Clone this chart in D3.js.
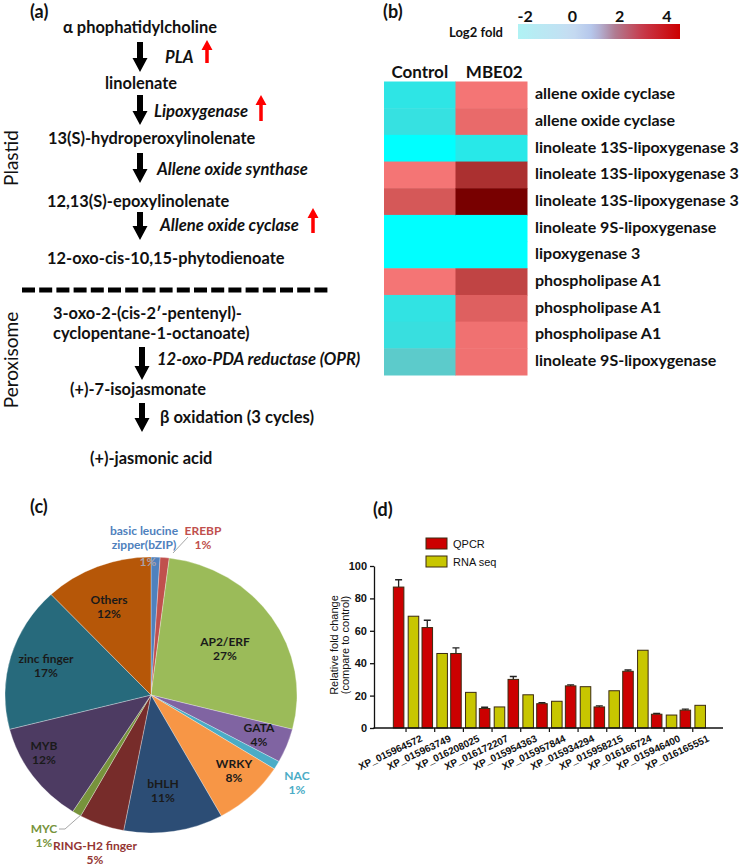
<!DOCTYPE html>
<html><head><meta charset="utf-8">
<script src="https://cdn.jsdelivr.net/npm/d3@7"></script>
<style>body{margin:0;background:#fff} svg{display:block}</style>
</head><body>
<script>
// ---------------- DATA ----------------
// (a) jasmonic acid pathway
const compounds = ["α phophatidylcholine","linolenate","13(S)-hydroperoxylinolenate","12,13(S)-epoxylinolenate",
  "12-oxo-cis-10,15-phytodienoate","3-oxo-2-(cis-2′-pentenyl)-\ncyclopentane-1-octanoate)","(+)-7-isojasmonate","(+)-jasmonic acid"];
const enzymes = ["PLA","Lipoxygenase","Allene oxide synthase","Allene oxide cyclase",null,"12-oxo-PDA reductase (OPR)","β oxidation (3 cycles)"];
const enzymeItalic = [true,true,true,true,false,true,false];
const upregulated = [true,true,false,true,false,false,false];
const compartments = ["Plastid","Peroxisome"];

// (b) heatmap
const conditions = ["Control","MBE02"];
const heatGenes = ["allene oxide cyclase","allene oxide cyclase","linoleate 13S-lipoxygenase 3","linoleate 13S-lipoxygenase 3",
  "linoleate 13S-lipoxygenase 3","linoleate 9S-lipoxygenase","lipoxygenase 3","phospholipase A1","phospholipase A1",
  "phospholipase A1","linoleate 9S-lipoxygenase"];
const controlLevel = [-0.62,-0.56,-1.0,1.0,1.25,-1.0,-1.0,1.0,-0.6,-0.54,-0.25];
const mbe02Level   = [1.0,1.09,-0.67,1.59,2.0,-1.0,-1.0,1.42,1.18,1.03,1.03];
const legendTicks = [-2,0,2,4];

// (c) transcription factor families
const tfFamilies = ["basic leucine\nzipper(bZIP)","EREBP","AP2/ERF","GATA","NAC","WRKY","bHLH","RING-H2 finger","MYC","MYB","zinc finger","Others"];
const tfPercent  = [1,1,27,4,1,8,11,5,1,12,17,12];
const tfColors   = ["#4f81bd","#c0504d","#9bbb59","#8064a2","#4bacc6","#f79646","#2c4d75","#772c2a","#77933c","#4d3b62","#276a7c","#b65708"];
const tfTextColors = ["#4f81bd","#c0504d","#1a1a1a","#1a1a1a","#4bacc6","#1a1a1a","#1a1a1a","#943634","#77933c","#1a1a1a","#1a1a1a","#1a1a1a"];

// (d) qPCR validation
const barGenes = ["XP_015964572","XP_015963749","XP_016208025","XP_016172207","XP_015954363","XP_015957844",
  "XP_015934294","XP_015958215","XP_016166724","XP_015946400","XP_016165551"];
const seriesNames = ["QPCR","RNA seq"];
const qpcr    = [87,62,46,12,30,15,26,13,35,8.5,11];
const qpcrErr = [4.5,4.5,3.5,0.8,1.8,0.6,0.6,0.6,0.8,0.5,0.6];
const rnaSeq  = [69,46,22,13,20.5,16.5,25.5,23,48,8,14];
const yTicks = [0,20,40,60,80,100];

// ---------------- LAYOUT ----------------
const CAL = "Lato, 'Open Sans', sans-serif";
const ARIAL = "'Liberation Sans', Arial, sans-serif";
const svg = d3.select("body").append("svg").attr("width",743).attr("height",865).style("background","#fff");

function txt(g,x,y,s,o={}){
  return g.append("text").attr("x",x).attr("y",y).text(s)
    .attr("font-family",o.ff||CAL).attr("font-size",o.fs||15).attr("font-weight",o.fw||"bold")
    .attr("font-style",o.it?"italic":"normal").attr("fill",o.fill||"#111")
    .attr("text-anchor",o.anchor||"start").attr("dominant-baseline",o.db||"central");
}
function arrowPath(x,y0,y1,sw,hw,hh){ // pointing from y0 to y1
  const d = y1>y0?1:-1;
  const yh = y1 - d*hh;
  return `M${x-sw/2},${y0}L${x+sw/2},${y0}L${x+sw/2},${yh}L${x+hw/2},${yh}L${x},${y1}L${x-hw/2},${yh}L${x-sw/2},${yh}Z`;
}

// ===== (a) =====
const gA = svg.append("g");
txt(gA,30,11,"(a)",{fs:18});
const compX = [63,105,48,47,47,53,70,90];
const compY = [26,82,137,200,257,312,388,457];
compounds.forEach((c,i)=>{
  c.split("\n").forEach((l,j)=> txt(gA,compX[i],compY[i]+j*20,l,{fs:16.4}));
});
const arrowX = [140,140,140,140,null,142,142];
const arrowSpan = [[42,72],[95,125],[153,183],[212,240],null,[347,380],[403,432]];
const enzX = [165,154,157,160,null,157,160];
const enzY = [57,111,169,225,null,359,417];
const redX = [207,261,null,313];
const redSpan = [[63,40],[121,95],null,[233,208]];
enzymes.forEach((e,i)=>{
  if(!e) return;
  gA.append("path").attr("d",arrowPath(arrowX[i],arrowSpan[i][0],arrowSpan[i][1],6,15,14)).attr("fill","#000");
  txt(gA,enzX[i],enzY[i],e,{fs:16.6,it:enzymeItalic[i]});
  if(upregulated[i]) gA.append("path").attr("d",arrowPath(redX[i],redSpan[i][0],redSpan[i][1],3.5,11,10)).attr("fill","#ff0000");
});
gA.append("line").attr("x1",22).attr("x2",331).attr("y1",290).attr("y2",290)
  .attr("stroke","#000").attr("stroke-width",5).attr("stroke-dasharray","13,4.2");
[[158,compartments[0]],[360,compartments[1]]].forEach(([cy,s])=>{
  gA.append("text").attr("transform",`translate(18,${cy}) rotate(-90)`).text(s)
    .attr("font-family",CAL).attr("font-size",19).attr("text-anchor","middle").attr("fill","#111");
});

// ===== (b) =====
const gB = svg.append("g");
txt(gB,383,11,"(b)",{fs:18});
const legX = d3.scaleLinear().domain([-2.3,4.55]).range([518,680]);
const legColor = d3.scaleLinear().domain([-2.3,0,0.9,1.8,3,4.55])
  .range(["#b0f2f4","#c6dcf2","#b4c4ea","#b07c92","#c83848","#cc0000"]);
const grad = svg.append("defs").append("linearGradient").attr("id","lg");
d3.range(0,1.0001,0.05).forEach(t=>{
  grad.append("stop").attr("offset",t).attr("stop-color",legColor(legX.invert(518+t*162)));
});
gB.append("rect").attr("x",legX.range()[0]).attr("y",24).attr("width",legX.range()[1]-legX.range()[0]).attr("height",15).attr("fill","url(#lg)");
legendTicks.forEach(t=> txt(gB,legX(t),15,String(t),{fs:16,anchor:"middle"}));
txt(gB,503,32,"Log2 fold",{fs:13,anchor:"end"});

const heatColor = d3.scaleLinear().domain([-1,1,2]).range(["#00ffff","#f47575","#780000"]);
const xH = d3.scaleBand().domain(conditions).range([384,527]);
const yH = d3.scaleBand().domain(d3.range(heatGenes.length)).range([81.5,375]);
conditions.forEach(c=> txt(gB,xH(c)+xH.bandwidth()/2+(c==="MBE02"?3:0),71,c,{fs:17,anchor:"middle"}));
const levels = [controlLevel,mbe02Level];
conditions.forEach((c,ci)=>{
  gB.selectAll(null).data(levels[ci]).join("rect")
    .attr("x",xH(c)).attr("y",(d,i)=>yH(i)).attr("width",xH.bandwidth()+0.5).attr("height",yH.bandwidth()+0.5)
    .attr("fill",d=>heatColor(d));
});
heatGenes.forEach((g,i)=> txt(gB,535,yH(i)+yH.bandwidth()/2-2,g,{fs:16}));

// ===== (c) =====
const gC = svg.append("g");
txt(gC,30,506,"(c)",{fs:18});
const pieData = d3.pie().sort(null).value(d=>d)(tfPercent);
const arc = d3.arc().innerRadius(0).outerRadius(138);
const gPie = gC.append("g").attr("transform","translate(151,695) scale(1.058,1)");
gPie.selectAll("path").data(pieData).join("path").attr("d",arc)
  .attr("fill",(d,i)=>tfColors[i]).attr("stroke","#fff").attr("stroke-width",0.3);
const tfLabelPos = [[144,530],[203,530],[225,641],[259,727],[297,775],[234,763],[163,783],[95,845],[44,828],[44,745],[46,658],[109,599]];
tfFamilies.forEach((f,i)=>{
  const lines = f.split("\n");
  const [lx,ly] = tfLabelPos[i];
  lines.forEach((l,j)=> txt(gC,lx,ly+j*14,l,{fs:12,anchor:"middle",fill:tfTextColors[i]}));
  const pc = tfPercent[i]+"%";
  if(i===0) txt(gC,lx+4,ly+lines.length*14+3,pc,{fs:12,anchor:"middle",fill:"#a9a2a8"});
  else txt(gC,lx,ly+lines.length*14,pc,{fs:12,anchor:"middle",fill:tfTextColors[i]});
});
gC.append("path").attr("d","M188,537L173,553").attr("stroke","#a6a6a6").attr("fill","none");
gC.append("path").attr("d","M59,829L65,829L82,814").attr("stroke","#a6a6a6").attr("fill","none");

// ===== (d) =====
const gD = svg.append("g");
txt(gD,373,509,"(d)",{fs:18});
const x0 = d3.scaleBand().domain(barGenes).range([391.7,707.1]);
const x1 = d3.scaleBand().domain(seriesNames).range([0,x0.bandwidth()]).paddingInner(0.29).paddingOuter(0.11);
const yB = d3.scaleLinear().domain([0,100]).range([728,566]);
const barColors = {"QPCR":"#cc0000","RNA seq":"#c8c600"};
const series = {"QPCR":qpcr,"RNA seq":rnaSeq};
gD.selectAll(null).data(qpcr).join("path")
  .attr("d",(d,i)=>{const cx=x0(barGenes[i])+x1("QPCR")+x1.bandwidth()/2, yt=yB(d), ye=yB(d+qpcrErr[i]);
    return `M${cx},${yt}V${ye}M${cx-3.5},${ye}H${cx+3.5}`;})
  .attr("stroke","#222").attr("stroke-width",1.3).attr("fill","none");
seriesNames.forEach(s=>{
  gD.selectAll(null).data(series[s]).join("rect")
    .attr("x",(d,i)=>x0(barGenes[i])+x1(s)).attr("y",d=>yB(d))
    .attr("width",x1.bandwidth()).attr("height",d=>yB(0)-yB(d))
    .attr("fill",barColors[s]).attr("stroke","#3b2a10").attr("stroke-width",1);
});
const yAx = gD.append("g").attr("transform","translate(374,0)")
  .call(d3.axisLeft(yB).tickValues(yTicks).tickSize(4).tickSizeOuter(0).tickPadding(3));
yAx.selectAll("text").attr("font-family",ARIAL).attr("font-size",11).attr("font-weight","bold").attr("fill","#111");
yAx.selectAll("line,path").attr("stroke","#111").attr("stroke-width",1.3);
gD.append("line").attr("x1",373.4).attr("x2",723).attr("y1",yB(0)).attr("y2",yB(0)).attr("stroke","#111").attr("stroke-width",1.6);
barGenes.forEach(g=>{
  const cx = x0(g)+x0.bandwidth()/2;
  gD.append("line").attr("x1",cx).attr("x2",cx).attr("y1",yB(0)).attr("y2",yB(0)+4).attr("stroke","#111").attr("stroke-width",1.2);
  gD.append("text").attr("transform",`translate(${cx+17},${yB(0)+13}) rotate(-25)`).text(g)
    .attr("font-family",ARIAL).attr("font-size",10).attr("font-weight","bold").attr("text-anchor","end").attr("fill","#111");
});
gD.append("text").attr("transform","translate(338,645) rotate(-90)").text("Relative fold change")
  .attr("font-family",ARIAL).attr("font-size",11).attr("text-anchor","middle").attr("fill","#111");
gD.append("text").attr("transform","translate(349,645) rotate(-90)").text("(compare to control)")
  .attr("font-family",ARIAL).attr("font-size",11).attr("text-anchor","middle").attr("fill","#111");
seriesNames.forEach((s,i)=>{
  gD.append("rect").attr("x",426).attr("y",538+i*18).attr("width",21).attr("height",11)
    .attr("fill",barColors[s]).attr("stroke","#3b2a10");
  txt(gD,453,544+i*18,s,{ff:ARIAL,fs:11,fw:"normal"});
});
</script>
</body></html>
